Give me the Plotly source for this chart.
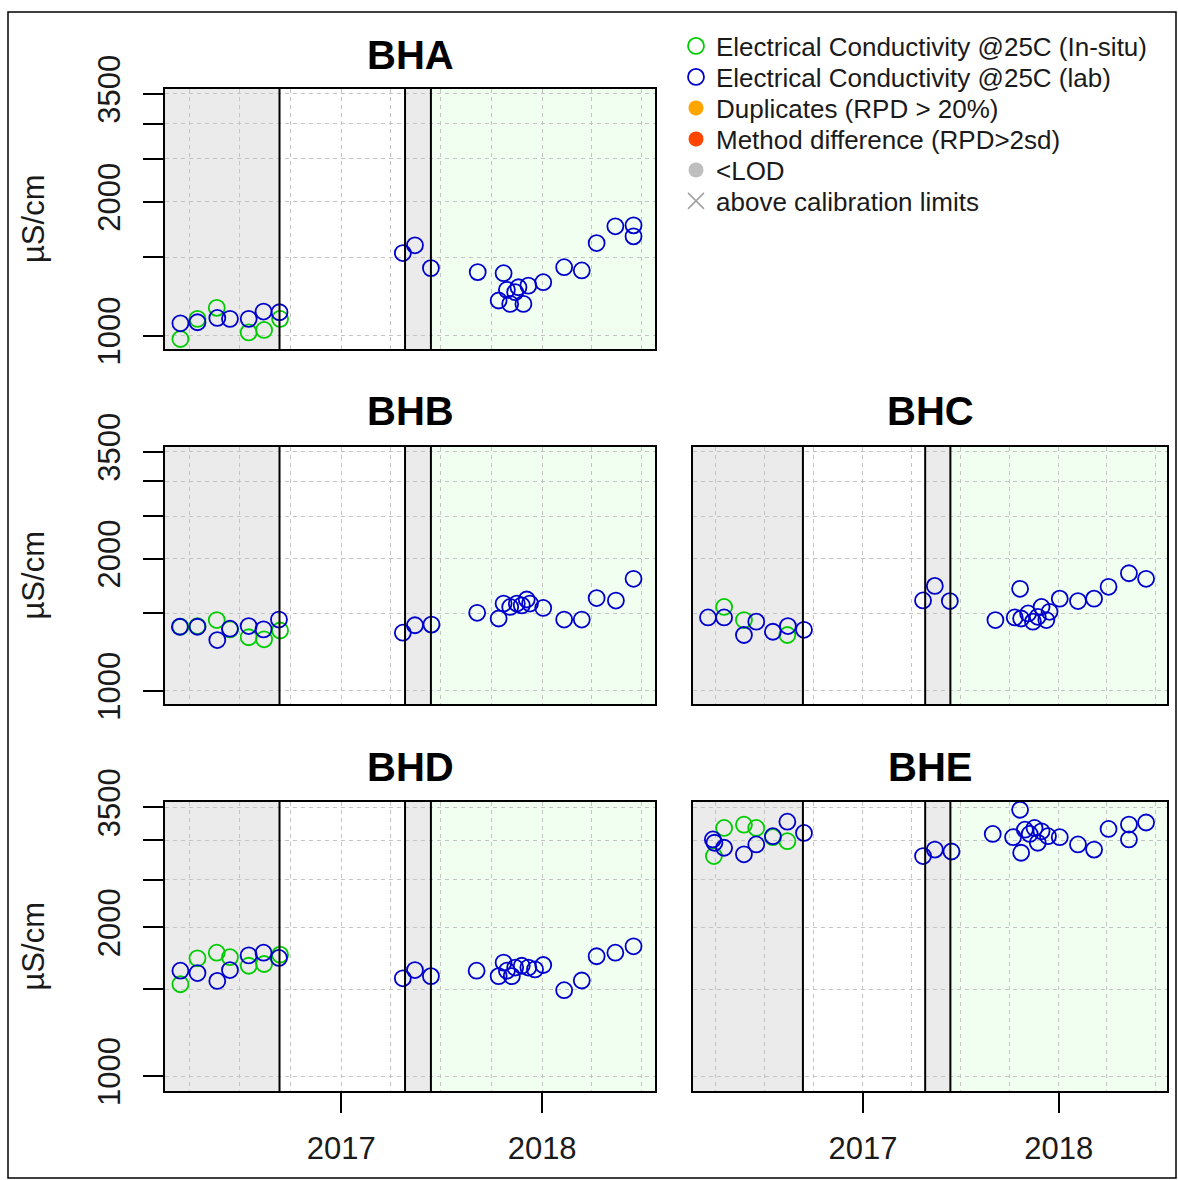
import plotly.graph_objects as go

# ---------------- data ----------------
stations = ["BHA", "BHB", "BHC", "BHD", "BHE"]

BHA_insitu_dates = ["2016-03-15", "2016-04-15", "2016-05-20", "2016-07-17", "2016-08-14", "2016-09-12"]
BHA_insitu_values = [983, 1091, 1155, 1017, 1030, 1091]
BHA_lab_dates = ["2016-03-15", "2016-04-15", "2016-05-21", "2016-06-13", "2016-07-17", "2016-08-13",
                 "2016-09-11", "2017-04-23", "2017-05-15", "2017-06-13", "2017-09-06", "2017-10-14",
                 "2017-10-23", "2017-10-29", "2017-11-04", "2017-11-13", "2017-11-19", "2017-11-28",
                 "2017-12-07", "2018-01-03", "2018-02-10", "2018-03-14", "2018-04-10", "2018-05-14",
                 "2018-06-16", "2018-06-16"]
BHA_lab_values = [1066, 1072, 1096, 1091, 1091, 1133, 1129, 1534, 1597, 1419, 1390, 1200,
                  1382, 1268, 1179, 1253, 1285, 1179, 1296, 1319, 1426, 1402, 1616, 1762,
                  1771, 1673]

BHB_insitu_dates = ["2016-03-15", "2016-04-15", "2016-05-20", "2016-06-13", "2016-07-17", "2016-08-14", "2016-09-12"]
BHB_insitu_values = [1399, 1404, 1449, 1380, 1324, 1310, 1372]
BHB_lab_dates = ["2016-03-14", "2016-04-15", "2016-05-21", "2016-06-13", "2016-07-17", "2016-08-13",
                 "2016-09-10", "2017-04-23", "2017-05-15", "2017-06-14", "2017-09-05", "2017-10-14",
                 "2017-10-23", "2017-11-04", "2017-11-16", "2017-11-25", "2017-12-04", "2017-12-10",
                 "2018-01-03", "2018-02-10", "2018-03-14", "2018-04-10", "2018-05-15", "2018-06-16"]
BHB_lab_values = [1399, 1399, 1305, 1385, 1404, 1380, 1453, 1356, 1410, 1415, 1505, 1461,
                  1580, 1552, 1580, 1565, 1614, 1580, 1544, 1453, 1453, 1626, 1605, 1799]

BHC_insitu_dates = ["2016-04-17", "2016-05-24", "2016-08-13"]
BHC_insitu_values = [1552, 1449, 1340]
BHC_lab_dates = ["2016-03-18", "2016-04-17", "2016-05-24", "2016-06-16", "2016-07-17", "2016-08-14",
                 "2016-09-13", "2017-04-23", "2017-05-15", "2017-06-12", "2017-09-05", "2017-10-11",
                 "2017-10-21", "2017-10-23", "2017-11-05", "2017-11-14", "2017-11-23", "2017-11-30",
                 "2017-12-09", "2017-12-15", "2018-01-03", "2018-02-06", "2018-03-08", "2018-04-04",
                 "2018-05-12", "2018-06-13"]
BHC_lab_values = [1469, 1469, 1340, 1437, 1363, 1404, 1377, 1606, 1733, 1601, 1449, 1469,
                  1707, 1461, 1500, 1437, 1474, 1552, 1449, 1513, 1621, 1601, 1621, 1725,
                  1852, 1799]

BHD_insitu_dates = ["2016-03-15", "2016-04-15", "2016-05-20", "2016-06-13", "2016-07-17", "2016-08-14", "2016-09-12"]
BHD_insitu_values = [1535, 1732, 1778, 1741, 1673, 1687, 1762]
BHD_lab_dates = ["2016-03-15", "2016-04-15", "2016-05-21", "2016-06-13", "2016-07-17", "2016-08-13",
                 "2016-09-10", "2017-04-23", "2017-05-15", "2017-06-13", "2017-09-04", "2017-10-14",
                 "2017-10-23", "2017-10-29", "2017-11-07", "2017-11-13", "2017-11-25", "2017-12-07",
                 "2017-12-19", "2018-01-03", "2018-02-10", "2018-03-14", "2018-04-10", "2018-05-14",
                 "2018-06-16"]
BHD_lab_values = [1635, 1617, 1559, 1640, 1756, 1778, 1735, 1578, 1640, 1594, 1635, 1594,
                  1698, 1635, 1594, 1659, 1673, 1659, 1645, 1679, 1493, 1562, 1749, 1778,
                  1832]

BHE_insitu_dates = ["2016-03-29", "2016-04-17", "2016-05-24", "2016-06-16", "2016-07-17", "2016-08-13"]
BHE_insitu_values = [2790, 3180, 3229, 3180, 3046, 2990]
BHE_lab_dates = ["2016-03-27", "2016-03-30", "2016-04-17", "2016-05-24", "2016-06-16", "2016-07-17",
                 "2016-08-13", "2016-09-13", "2017-04-23", "2017-05-15", "2017-06-15", "2017-08-31",
                 "2017-10-08", "2017-10-21", "2017-10-23", "2017-10-30", "2017-11-08", "2017-11-17",
                 "2017-11-23", "2017-11-30", "2017-12-12", "2018-01-03", "2018-02-06", "2018-03-08",
                 "2018-04-04", "2018-05-12", "2018-05-12", "2018-06-13"]
BHE_lab_values = [3014, 2968, 2900, 2813, 2945, 3060, 3274, 3107, 2790, 2875, 2850, 3093,
                  3046, 3462, 2833, 3155, 3093, 3180, 2968, 3131, 3060, 3046, 2945, 2875,
                  3166, 3231, 3014, 3262]

period_bounds = ["2016-09-11", "2017-04-27", "2017-06-13"]
y_tick_values = [1000, 1500, 2000, 2500, 3000, 3500]
y_tick_labels = ["1000", "", "2000", "", "", "3500"]
legend_labels = ["Electrical Conductivity @25C (In-situ)", "Electrical Conductivity @25C (lab)",
                 "Duplicates (RPD > 20%)", "Method difference (RPD>2sd)", "<LOD",
                 "above calibration limits"]

data = {
    "BHA": (BHA_insitu_dates, BHA_insitu_values, BHA_lab_dates, BHA_lab_values),
    "BHB": (BHB_insitu_dates, BHB_insitu_values, BHB_lab_dates, BHB_lab_values),
    "BHC": (BHC_insitu_dates, BHC_insitu_values, BHC_lab_dates, BHC_lab_values),
    "BHD": (BHD_insitu_dates, BHD_insitu_values, BHD_lab_dates, BHD_lab_values),
    "BHE": (BHE_insitu_dates, BHE_insitu_values, BHE_lab_dates, BHE_lab_values),
}

# ---------------- layout helpers ----------------
W, H = 1178, 1180
FONT = "Liberation Sans, Arial, sans-serif"
GREEN = "#00CD00"
BLUE = "#0000CD"
GRID = "#C4C4C4"
GREY_BG = "#EBEBEB"
GREEN_BG = "#F0FFF0"
TXT = "#1a1a1a"


def fx(px):
    return px / W


def fy(py):
    return 1 - py / H


LEFT_X = (165, 655)
RIGHT_X = (693, 1167)
LEFT_RANGE = ["2016-02-16", "2018-07-25"]
RIGHT_RANGE = ["2016-02-19", "2018-07-22"]

panel_cfg = {
    "BHA": dict(xd=LEFT_X, yd=(89, 349), xr=LEFT_RANGE, ylab=True, xlab=False, title_y=55),
    "BHB": dict(xd=LEFT_X, yd=(447, 704), xr=LEFT_RANGE, ylab=True, xlab=False, title_y=411),
    "BHC": dict(xd=RIGHT_X, yd=(447, 704), xr=RIGHT_RANGE, ylab=False, xlab=False, title_y=411),
    "BHD": dict(xd=LEFT_X, yd=(802, 1091), xr=LEFT_RANGE, ylab=True, xlab=True, title_y=767),
    "BHE": dict(xd=RIGHT_X, yd=(802, 1091), xr=RIGHT_RANGE, ylab=False, xlab=True, title_y=767),
}

legend_rows_y = [46, 77, 108, 139, 170, 201]
LEGEND_X = 676

fig = go.Figure()
shapes = []
annotations = []
layout_axes = {}


def legend_name(k):
    return "legend" if k == 0 else f"legend{k + 1}"


for i, st in enumerate(stations, start=1):
    cfg = panel_cfg[st]
    ins_d, ins_v, lab_d, lab_v = data[st]
    xa = "x" if i == 1 else f"x{i}"
    ya = "y" if i == 1 else f"y{i}"
    first = i == 1

    fig.add_trace(go.Scatter(
        x=ins_d, y=ins_v, mode="markers", xaxis=xa, yaxis=ya,
        name=legend_labels[0], showlegend=first, legend=legend_name(0),
        marker=dict(symbol="circle-open", size=16, color=GREEN, line=dict(width=1.8, color=GREEN)),
    ))
    fig.add_trace(go.Scatter(
        x=lab_d, y=lab_v, mode="markers", xaxis=xa, yaxis=ya,
        name=legend_labels[1], showlegend=first, legend=legend_name(1),
        marker=dict(symbol="circle-open", size=16, color=BLUE, line=dict(width=1.8, color=BLUE)),
    ))

    xr = cfg["xr"]
    xaxis = dict(
        domain=[fx(cfg["xd"][0]), fx(cfg["xd"][1])], anchor=ya, type="date", range=xr,
        automargin=False,
        tick0="2017-01-01", dtick="M12", tickformat="%Y",
        showgrid=True, gridcolor=GRID, griddash="4px,4px", gridwidth=1,
        minor=dict(dtick="M3", tick0="2016-01-01", showgrid=True, gridcolor=GRID,
                   griddash="4px,4px", gridwidth=1, ticks=""),
        showline=True, mirror=True, linecolor="black", linewidth=2,
        zeroline=False,
        showticklabels=cfg["xlab"], ticks="outside" if cfg["xlab"] else "",
        ticklen=20, tickwidth=2, tickcolor="black", ticklabelstandoff=9,
        tickfont=dict(family=FONT, size=31, color=TXT),
    )
    yaxis = dict(
        domain=[fy(cfg["yd"][1]), fy(cfg["yd"][0])], anchor=xa, type="log",
        automargin=False,
        range=[2.970, 3.555],
        tickmode="array", tickvals=y_tick_values,
        ticktext=y_tick_labels if cfg["ylab"] else [""] * len(y_tick_values),
        showgrid=True, gridcolor=GRID, griddash="4px,4px", gridwidth=1,
        showline=True, mirror=True, linecolor="black", linewidth=2, zeroline=False,
        ticks="outside" if cfg["ylab"] else "", ticklen=20, tickwidth=2, tickcolor="black",
        tickangle=-90, ticklabelstandoff=11,
        showticklabels=cfg["ylab"],
        tickfont=dict(family=FONT, size=31, color=TXT),
    )
    layout_axes["xaxis" if i == 1 else f"xaxis{i}"] = xaxis
    layout_axes["yaxis" if i == 1 else f"yaxis{i}"] = yaxis

    yref_dom = f"{ya} domain"
    regions = [
        (xr[0], period_bounds[0], GREY_BG),
        (period_bounds[1], period_bounds[2], GREY_BG),
        (period_bounds[2], xr[1], GREEN_BG),
    ]
    for x0, x1, col in regions:
        shapes.append(dict(type="rect", xref=xa, yref=yref_dom, x0=x0, x1=x1, y0=0, y1=1,
                           fillcolor=col, line=dict(width=0), layer="below"))
    for b in period_bounds:
        shapes.append(dict(type="line", xref=xa, yref=yref_dom, x0=b, x1=b, y0=0, y1=1,
                           line=dict(color="black", width=2), layer="above"))

    annotations.append(dict(
        text=f"<b>{st}</b>", xref="paper", yref="paper",
        x=fx((cfg["xd"][0] + cfg["xd"][1]) / 2), y=fy(cfg["title_y"]),
        xanchor="center", yanchor="middle", showarrow=False,
        font=dict(family=FONT, size=40, color="black"),
    ))
    if cfg["ylab"]:
        annotations.append(dict(
            text="µS/cm", xref="paper", yref="paper",
            x=fx(33), y=fy((cfg["yd"][0] + cfg["yd"][1]) / 2),
            xanchor="center", yanchor="middle", showarrow=False, textangle=-90,
            font=dict(family=FONT, size=31, color=TXT),
        ))

# legend-only entries (no data in this chart)
extra = [
    (legend_labels[2], dict(symbol="circle", size=15, color="#FFA500")),
    (legend_labels[3], dict(symbol="circle", size=15, color="#FF4500")),
    (legend_labels[4], dict(symbol="circle", size=15, color="#BEBEBE")),
    (legend_labels[5], dict(symbol="x-thin-open", size=16, color="#A0A0A0",
                            line=dict(width=1.5, color="#A0A0A0"))),
]
for k, (nm, mk) in enumerate(extra):
    fig.add_trace(go.Scatter(x=[None], y=[None], mode="markers", name=nm, marker=mk,
                             showlegend=True, legend=legend_name(k + 2)))

# one single-row legend per entry so the row spacing matches
legends = {}
for k, ry in enumerate(legend_rows_y):
    legends[legend_name(k)] = dict(
        x=fx(LEGEND_X), y=fy(ry), xanchor="left", yanchor="middle",
        bgcolor="rgba(0,0,0,0)", borderwidth=0,
        font=dict(family=FONT, size=26, color=TXT),
    )

# outer frame
shapes.append(dict(type="rect", xref="paper", yref="paper", x0=fx(8), x1=fx(1176),
                   y0=fy(1178), y1=fy(12), line=dict(color="black", width=1.5),
                   fillcolor="rgba(0,0,0,0)", layer="above"))

fig.update_layout(
    width=W, height=H, autosize=False,
    margin=dict(l=0, r=0, t=0, b=0, pad=0),
    paper_bgcolor="white", plot_bgcolor="white",
    font=dict(family=FONT, color=TXT),
    shapes=shapes, annotations=annotations,
    **legends,
    **layout_axes,
)

fig.write_html("out.html")
